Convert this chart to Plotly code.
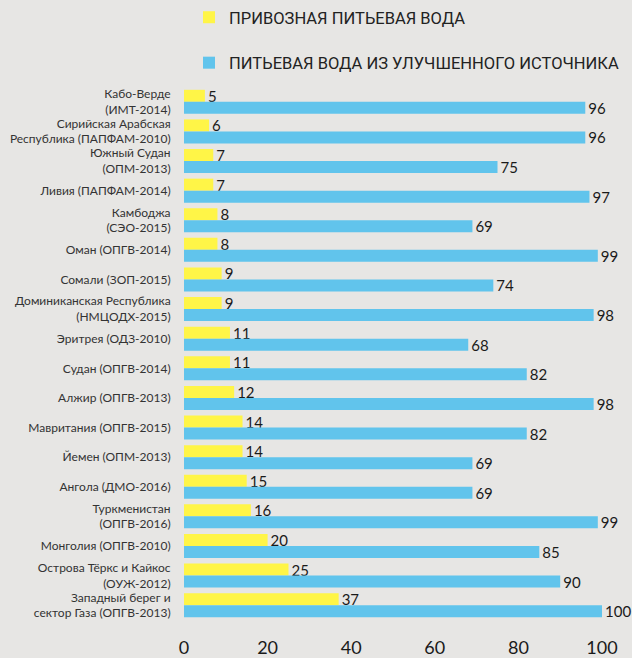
import plotly.graph_objects as go

categories = [
    "Кабо-Верде<br>(ИМТ-2014)",
    "Сирийская Арабская<br>Республика (ПАПФАМ-2010)",
    "Южный Судан<br>(ОПМ-2013)",
    "Ливия (ПАПФАМ-2014)",
    "Камбоджа<br>(СЭО-2015)",
    "Оман (ОПГВ-2014)",
    "Сомали (ЗОП-2015)",
    "Доминиканская Республика<br>(НМЦОДХ-2015)",
    "Эритрея (ОДЗ-2010)",
    "Судан (ОПГВ-2014)",
    "Алжир (ОПГВ-2013)",
    "Мавритания (ОПГВ-2015)",
    "Йемен (ОПМ-2013)",
    "Ангола (ДМО-2016)",
    "Туркменистан<br>(ОПГВ-2016)",
    "Монголия (ОПГВ-2010)",
    "Острова Тёркс и Кайкос<br>(ОУЖ-2012)",
    "Западный берег и<br>сектор Газа (ОПГВ-2013)",
]
delivered = [5, 6, 7, 7, 8, 8, 9, 9, 11, 11, 12, 14, 14, 15, 16, 20, 25, 37]
improved = [96, 96, 75, 97, 69, 99, 74, 98, 68, 82, 98, 82, 69, 69, 99, 85, 90, 100]
series_names = ["ПРИВОЗНАЯ ПИТЬЕВАЯ ВОДА", "ПИТЬЕВАЯ ВОДА ИЗ УЛУЧШЕННОГО ИСТОЧНИКА"]
x_ticks = [0, 20, 40, 60, 80, 100]

BG = "#e7e6e4"
YELLOW = "#fff547"
BLUE = "#61c4ec"
NUM_FONT = dict(family="Lato", size=15, color="#1a1a1a")

fig = go.Figure()
fig.add_trace(go.Bar(
    y=categories, x=delivered, orientation="h", name=series_names[0],
    marker=dict(color=YELLOW, line=dict(width=0)),
    text=delivered, textposition="outside", textfont=NUM_FONT,
    constraintext="none", cliponaxis=False, legendgroup="a",
))
fig.add_trace(go.Bar(
    y=categories, x=improved, orientation="h", name=series_names[1],
    marker=dict(color=BLUE, line=dict(width=0)),
    text=improved, textposition="outside", textfont=NUM_FONT,
    constraintext="none", cliponaxis=False, legendgroup="b",
))

fig.update_layout(
    width=632, height=658,
    paper_bgcolor=BG, plot_bgcolor=BG,
    margin=dict(l=184, r=30, t=87, b=38, autoexpand=False),
    barmode="group", bargap=0.19, bargroupgap=0,
    showlegend=True,
    legend=dict(
        x=0.012, y=1.0, xanchor="left", yanchor="top",
        yref="container", xref="paper",
        orientation="v", traceorder="grouped", tracegroupgap=21,
        font=dict(family="Roboto", size=16.5, color="#222"),
        bgcolor="rgba(0,0,0,0)",
    ),
)

fig.update_xaxes(
    range=[0, 100], tickvals=x_ticks, ticktext=[str(v) for v in x_ticks],
    showgrid=False, zeroline=False, showline=False, automargin=False,
    tickfont=dict(family="Lato", size=18, color="#1a1a1a"),
    ticks="outside", ticklen=11, tickcolor=BG,
)
fig.update_yaxes(
    autorange="reversed", showgrid=False, zeroline=False, showline=False,
    automargin=False,
    tickfont=dict(family="Lato", size=12, color="#333"),
    ticks="outside", ticklen=10, tickcolor=BG,
)

fig.write_html(
    "out.html",
    config={"displayModeBar": False},
    post_script="document.body.style.margin='0';document.body.style.overflow='hidden';",
)
